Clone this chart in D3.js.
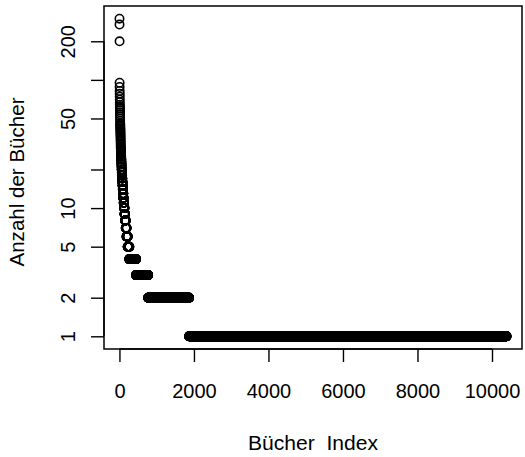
<!DOCTYPE html>
<html>
<head>
<meta charset="utf-8">
<script src="https://cdn.jsdelivr.net/npm/d3@7"></script>
<style>
  html, body { margin: 0; padding: 0; background: #fff; }
  text { font-family: "Liberation Sans", Arial, Helvetica, sans-serif; fill: #000; }
</style>
</head>
<body>
<script>
// Frequency table: sorted counts (Anzahl) and how many books share each count
const countValues = [300, 270, 200, 95, 88, 82, 78, 74, 70, 67, 64, 62, 60, 58, 56, 54, 52, 50, 48, 46, 45, 44, 43, 42, 41, 40, 39, 38, 37, 36, 35, 34, 33, 32, 31,
  30, 29, 28, 27, 26, 25, 24, 23, 22, 21, 20, 19, 18, 17, 16, 15, 14, 13, 12, 11, 10, 9, 8, 7, 6, 5, 4, 3, 2, 1];
const bookCounts = [1, 1, 1, 1, 1, 1, 1, 1, 1, 1, 1, 1, 1, 1, 1, 1, 1, 1, 1, 1, 1, 1, 1, 1, 1, 1, 1, 1, 1, 1, 1, 1, 1, 1, 1,
  2, 2, 2, 2, 2, 2, 3, 3, 3, 3, 4, 4, 5, 5, 6, 6, 7, 8, 9, 10, 12, 15, 18, 22, 30, 45, 180, 325, 1100, 8520];
const xTicks = [0, 2000, 4000, 6000, 8000, 10000];
const yTicks = [1, 2, 5, 10, 20, 50, 100, 200];
const yTickLabels = ["1", "2", "5", "10", "", "50", "", "200"];
const xLabel = "Bücher  Index";
const yLabel = "Anzahl der Bücher";

// expand frequency table into ranked points
const points = [];
let idx = 0;
countValues.forEach((v, k) => {
  for (let j = 0; j < bookCounts[k]; j++) { idx += 1; points.push({ i: idx, v: v }); }
});
const N = idx;

const W = 525, H = 457;
const box = { l: 104, r: 522, t: 6, b: 349 };
const FS = 20;

const svg = d3.select("body").append("svg").attr("width", W).attr("height", H);

const xr = [1, N];
const xpad = 0.04 * (xr[1] - xr[0]);
const x = d3.scaleLinear().domain([xr[0] - xpad, xr[1] + xpad]).range([box.l, box.r]);

const ymin = d3.min(countValues), ymax = d3.max(countValues);
const lpad = 0.04 * (Math.log10(ymax) - Math.log10(ymin));
const y = d3.scaleLog().domain([Math.pow(10, Math.log10(ymin) - lpad), Math.pow(10, Math.log10(ymax) + lpad)]).range([box.b, box.t]);

// points
svg.append("g")
  .selectAll("circle")
  .data(points)
  .join("circle")
  .attr("cx", d => x(d.i))
  .attr("cy", d => y(d.v))
  .attr("r", 4.2)
  .attr("fill", "none")
  .attr("stroke", "#000")
  .attr("stroke-width", 1.6);

// x axis
const xAxis = d3.axisBottom(x).tickValues(xTicks).tickSize(13).tickFormat(d3.format("d"));
const gx = svg.append("g").attr("transform", `translate(0,${box.b})`).call(xAxis);
gx.select(".domain").attr("d", `M${x(xTicks[0])},0H${x(xTicks[xTicks.length - 1])}`).attr("stroke", "#000").attr("stroke-width", 1.4);
gx.selectAll(".tick line").attr("stroke", "#000").attr("stroke-width", 1.4);
gx.selectAll(".tick text").attr("font-size", FS).attr("font-family", "Liberation Sans, Arial, sans-serif").attr("y", 0).attr("dy", "0").attr("transform", "translate(0,49)");

// y axis
const yAxis = d3.axisLeft(y).tickValues(yTicks).tickSize(13).tickFormat((d, i) => yTickLabels[i]);
const gy = svg.append("g").attr("transform", `translate(${box.l},0)`).call(yAxis);
gy.select(".domain").attr("d", `M0,${y(yTicks[0])}V${y(yTicks[yTicks.length - 1])}`).attr("stroke", "#000").attr("stroke-width", 1.4);
gy.selectAll(".tick line").attr("stroke", "#000").attr("stroke-width", 1.4);
gy.selectAll(".tick text")
  .attr("font-size", FS)
  .attr("font-family", "Liberation Sans, Arial, sans-serif")
  .attr("x", 0).attr("dy", "0")
  .attr("text-anchor", "middle")
  .attr("transform", "translate(-29,0) rotate(-90)");

// box
svg.append("rect")
  .attr("x", box.l).attr("y", box.t)
  .attr("width", box.r - box.l).attr("height", box.b - box.t)
  .attr("fill", "none").attr("stroke", "#000").attr("stroke-width", 1.5);

// axis titles
svg.append("text")
  .attr("x", (box.l + box.r) / 2).attr("y", 450)
  .attr("text-anchor", "middle").attr("font-size", FS)
  .attr("textLength", 130).attr("lengthAdjust", "spacingAndGlyphs")
  .attr("xml:space", "preserve")
  .style("white-space", "pre")
  .text(xLabel);

svg.append("text")
  .attr("transform", `translate(24,182) rotate(-90)`)
  .attr("text-anchor", "middle").attr("font-size", FS)
  .attr("textLength", 169).attr("lengthAdjust", "spacingAndGlyphs")
  .text(yLabel);
</script>
</body>
</html>
